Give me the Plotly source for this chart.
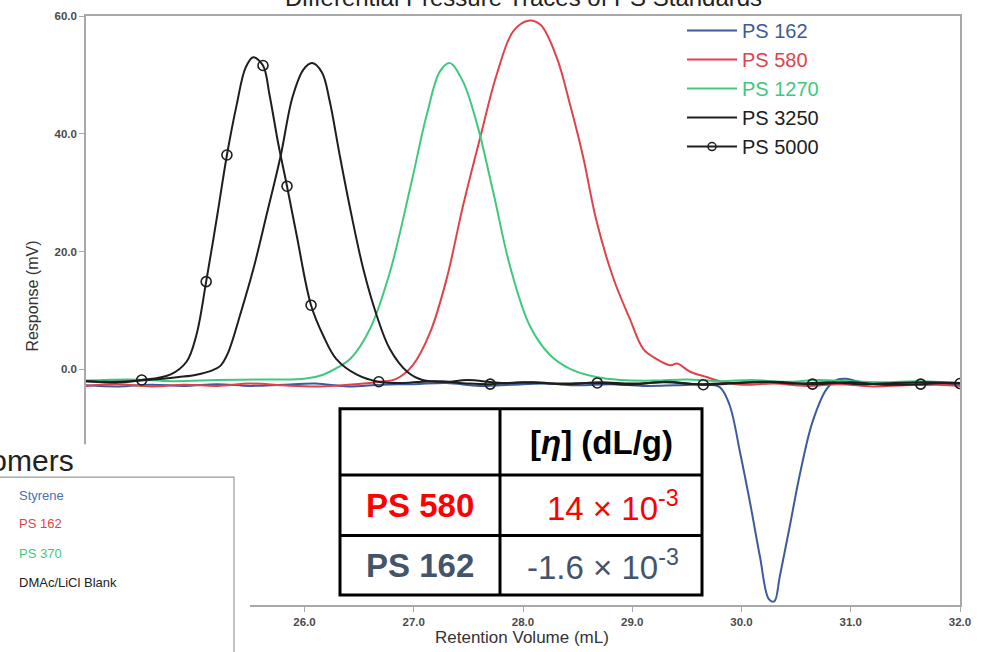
import plotly.graph_objects as go

# ---------------- data ----------------
ps162_x = [24.0, 24.3, 24.6, 24.9, 25.2, 25.5, 25.8, 26.1, 26.4, 26.7, 27.0, 27.3, 27.6, 27.9,
           28.2, 28.5, 28.8, 29.1, 29.4, 29.65, 29.80, 29.89, 29.99, 30.08, 30.17, 30.25, 30.30,
           30.35, 30.44, 30.54, 30.65, 30.78, 30.87, 30.96, 31.08, 31.3, 31.6, 31.8, 32.0]
ps162_y = [-2.7, -2.9, -2.6, -2.8, -2.5, -2.8, -2.6, -2.4, -2.9, -2.6, -2.5, -2.3, -2.8, -2.6,
           -2.4, -2.7, -2.5, -2.8, -2.7, -2.6, -3.0, -6.0, -14.4, -22.8, -31.9, -39.0, -39.4,
           -35.2, -26.8, -17.3, -8.9, -3.3, -1.8, -1.6, -2.1, -2.3, -2.6, -2.5, -2.7]

ps580_x = [24.0, 24.3, 24.6, 24.9, 25.2, 25.5, 25.8, 26.1, 26.4, 26.69, 26.84, 26.99, 27.15, 27.30,
           27.45, 27.61, 27.76, 27.91, 28.05, 28.16, 28.31, 28.43, 28.55, 28.67, 28.83, 28.98, 29.10,
           29.22, 29.35, 29.41, 29.53, 29.68, 29.80, 30.0, 30.3, 30.6, 30.9, 31.2, 31.5, 31.8, 32.0]
ps580_y = [-2.8, -2.5, -2.9, -2.6, -2.8, -2.4, -2.7, -2.9, -2.6, -2.1, -1.6, 0.7, 6.3, 15.3,
           27.7, 39.5, 50.1, 57.4, 59.2, 58.5, 52.9, 45.0, 36.1, 25.4, 15.3, 8.5, 3.5,
           1.8, 0.7, 1.0, -0.4, -1.3, -2.0, -2.6, -2.4, -2.8, -2.5, -2.9, -2.7, -2.6, -2.8]

ps1270_x = [24.0, 24.4, 24.8, 25.2, 25.6, 26.0, 26.17, 26.30, 26.42, 26.60, 26.78, 26.97, 27.12,
            27.24, 27.33, 27.45, 27.58, 27.73, 27.88, 28.06, 28.25, 28.43, 28.67, 28.89, 29.2,
            29.5, 29.8, 30.1, 30.4, 30.7, 31.0, 31.3, 31.6, 32.0]
ps1270_y = [-1.9, -1.7, -2.0, -1.8, -1.7, -1.6, -0.9, 0.3, 1.8, 6.9, 16.4, 31.0, 43.3,
            50.6, 52.0, 48.9, 41.6, 29.9, 17.6, 7.5, 2.4, 0.1, -1.3, -1.8, -1.9,
            -1.7, -2.0, -1.8, -2.1, -1.8, -2.0, -2.2, -2.0, -2.3]

ps3250_x = [24.0, 24.3, 24.5, 24.70, 24.85, 25.01, 25.15, 25.23, 25.30, 25.41, 25.53, 25.65,
            25.78, 25.89, 25.99, 26.07, 26.16, 26.23, 26.32, 26.42, 26.54, 26.66, 26.78, 26.94,
            27.08, 27.3, 27.49, 27.8, 28.1, 28.4, 28.7, 29.0, 29.3, 29.6, 29.9, 30.2, 30.5,
            30.8, 31.1, 31.4, 31.7, 32.0]
ps3250_y = [-2.0, -2.2, -1.9, -1.6, -1.3, -0.9, -0.2, 0.6, 2.8, 9.2, 16.9, 26.0,
            36.1, 46.2, 50.9, 52.0, 50.4, 45.6, 36.6, 27.1, 16.9, 9.2, 3.5, -0.4,
            -1.8, -2.1, -1.8, -2.3, -2.2, -2.5, -2.2, -2.4, -2.2, -2.5, -2.3, -2.1, -2.4,
            -2.2, -2.5, -2.3, -2.2, -2.3]

ps5000_x = [24.0, 24.25, 24.51, 24.77, 24.92, 25.01, 25.10, 25.20, 25.29, 25.38, 25.46, 25.53,
            25.62, 25.68, 25.76, 25.84, 25.93, 26.06, 26.17, 26.29, 26.48, 26.68, 26.9, 27.2,
            27.5, 27.70, 28.0, 28.3, 28.68, 29.0, 29.3, 29.65, 30.0, 30.3, 30.65, 31.0, 31.3,
            31.64, 31.85, 32.0]
ps5000_y = [-2.0, -2.1, -1.8, -0.9, 1.3, 5.8, 14.9, 26.0, 36.4, 45.0, 51.2, 53.0,
            51.6, 46.6, 38.3, 31.1, 22.6, 10.9, 5.8, 1.8, -0.9, -2.1, -2.3, -2.0,
            -2.4, -2.5, -2.2, -2.4, -2.3, -2.6, -2.1, -2.6, -2.3, -2.1, -2.5, -2.2, -2.6,
            -2.5, -2.3, -2.4]
ps5000_marker_idx = [2, 6, 8, 12, 15, 17, 21, 25, 28, 31, 34, 37, 39]

series_names = ["PS 162", "PS 580", "PS 1270", "PS 3250", "PS 5000"]
series_colors = ["#3d5b9c", "#e0424c", "#3ec97e", "#1e1e1e", "#1e1e1e"]

x_ticks = [24, 25, 26, 27, 28, 29, 30, 31, 32]
y_ticks = [-40, -20, 0, 20, 40, 60]

title_text = "Differential Pressure Traces of PS Standards"
x_title = "Retention Volume (mL)"
y_title = "Response (mV)"

oligomer_title = "Oligomers"
oligomer_labels = ["Styrene", "PS 162", "PS 370", "DMAc/LiCl Blank"]
oligomer_colors = ["#4a6fb0", "#e0424c", "#3ec97e", "#222222"]

table_header = "[<i>η</i>] (dL/g)"
table_rows = ["PS 580", "PS 162"]
table_values = ["14 × 10<sup>-3</sup>", "-1.6 × 10<sup>-3</sup>"]
table_colors = ["#ff0000", "#44546a"]

# ---------------- layout helpers (pixel -> paper) ----------------
L, R, T, B = 86, 960, 11, 605
W, H = 986, 652


def px(x):
    return (x - L) / (R - L)


def py(y):
    return (B - y) / (B - T)


FONT = "Arial, Liberation Sans, sans-serif"

fig = go.Figure()

series = [(ps162_x, ps162_y), (ps580_x, ps580_y), (ps1270_x, ps1270_y), (ps3250_x, ps3250_y)]
for (xs, ys), name, col in zip(series, series_names[:4], series_colors[:4]):
    fig.add_trace(go.Scatter(
        x=xs, y=ys, mode="lines", name=f"<span style='color:{col}'>{name}</span>",
        line=dict(color=col, width=2, shape="spline", smoothing=1.0), hoverinfo="skip"))

# PS 5000 line
fig.add_trace(go.Scatter(
    x=ps5000_x, y=ps5000_y, mode="lines", showlegend=False,
    line=dict(color=series_colors[4], width=2, shape="spline", smoothing=1.0), hoverinfo="skip"))
# PS 5000 markers
fig.add_trace(go.Scatter(
    x=[ps5000_x[i] for i in ps5000_marker_idx], y=[ps5000_y[i] for i in ps5000_marker_idx],
    mode="markers", showlegend=False,
    marker=dict(symbol="circle-open", size=10, color=series_colors[4],
                line=dict(width=1.6, color=series_colors[4])), hoverinfo="skip"))
# PS 5000 legend entry
fig.add_trace(go.Scatter(
    x=[None], y=[None], mode="lines+markers",
    name=f"<span style='color:{series_colors[4]}'>{series_names[4]}</span>",
    line=dict(color=series_colors[4], width=2),
    marker=dict(symbol="circle-open", size=8, color=series_colors[4],
                line=dict(width=1.5, color=series_colors[4]))))

axis_common = dict(showline=True, linecolor="#a8a8a8", linewidth=1.5, mirror=True,
                   ticks="outside", ticklen=5, tickcolor="#a8a8a8", showgrid=False,
                   zeroline=False, tickformat=".1f",
                   tickfont=dict(family=FONT, size=11.5, color="#4a4a4a", weight="bold"))

fig.update_layout(
    width=W, height=H,
    margin=dict(l=L, r=W - R, t=T, b=H - B),
    paper_bgcolor="white", plot_bgcolor="white",
    font=dict(family=FONT),
    xaxis=dict(range=[24, 32], tickvals=x_ticks, **axis_common),
    yaxis=dict(range=[-40, 60], tickvals=y_ticks, **axis_common),
    legend=dict(x=px(682), y=py(6), xanchor="left", yanchor="top",
                bgcolor="rgba(0,0,0,0)", font=dict(family=FONT, size=20),
                itemwidth=50, tracegroupgap=0),
    hovermode=False,
)

shapes = []
# white cover bottom-left (pasted legend panel)
shapes.append(dict(type="rect", xref="paper", yref="paper", x0=px(-30), x1=px(250),
                   y0=py(680), y1=py(443), fillcolor="white", line=dict(width=0), layer="above"))
shapes.append(dict(type="rect", xref="paper", yref="paper", x0=px(-30), x1=px(234),
                   y0=py(680), y1=py(476), fillcolor="white",
                   line=dict(width=1.2, color="#9a9a9a"), layer="above"))
# table
tl, tm, tr = 340, 500, 702
tt, t1, t2, tb = 407, 474, 535, 595
shapes.append(dict(type="rect", xref="paper", yref="paper", x0=px(tl), x1=px(tr),
                   y0=py(tb), y1=py(tt), fillcolor="white",
                   line=dict(width=3, color="black"), layer="above"))
shapes.append(dict(type="line", xref="paper", yref="paper", x0=px(tm), x1=px(tm),
                   y0=py(tb), y1=py(tt), line=dict(width=3, color="black"), layer="above"))
for yy in (t1, t2):
    shapes.append(dict(type="line", xref="paper", yref="paper", x0=px(tl), x1=px(tr),
                       y0=py(yy), y1=py(yy), line=dict(width=3, color="black"), layer="above"))
fig.update_layout(shapes=shapes)

ann = []
ann.append(dict(text=title_text, x=px(523), y=py(-8), xref="paper", yref="paper",
                xanchor="center", yanchor="middle", showarrow=False,
                font=dict(family=FONT, size=24, color="#222")))
ann.append(dict(text=x_title, x=px(522), y=py(638), xref="paper", yref="paper",
                xanchor="center", yanchor="middle", showarrow=False,
                font=dict(family=FONT, size=17, color="#333")))
ann.append(dict(text=y_title, x=px(33), y=py(294), xref="paper", yref="paper",
                xanchor="center", yanchor="middle", showarrow=False, textangle=-90,
                font=dict(family=FONT, size=16, color="#333")))
ann.append(dict(text=oligomer_title, x=px(76), y=py(459), xref="paper", yref="paper",
                xanchor="right", yanchor="middle", showarrow=False,
                font=dict(family=FONT, size=30, color="#222")))
for lab, col, yy in zip(oligomer_labels, oligomer_colors, [495, 523, 553, 582]):
    ann.append(dict(text=lab, x=px(17), y=py(yy), xref="paper", yref="paper",
                    xanchor="left", yanchor="middle", showarrow=False,
                    font=dict(family=FONT, size=13, color=col)))
ann.append(dict(text=table_header, x=px(601), y=py(441), xref="paper", yref="paper",
                xanchor="center", yanchor="middle", showarrow=False,
                font=dict(family=FONT, size=33, color="black", weight="bold")))
for lab, val, col, yy in zip(table_rows, table_values, table_colors, [505, 565]):
    ann.append(dict(text=lab, x=px(420), y=py(yy), xref="paper", yref="paper",
                    xanchor="center", yanchor="middle", showarrow=False,
                    font=dict(family=FONT, size=33, color=col, weight="bold")))
    ann.append(dict(text=val, x=px(681), y=py(yy), xref="paper", yref="paper",
                    xanchor="right", yanchor="middle", showarrow=False,
                    font=dict(family=FONT, size=33, color=col)))
fig.update_layout(annotations=ann)

fig.write_html("out.html")
